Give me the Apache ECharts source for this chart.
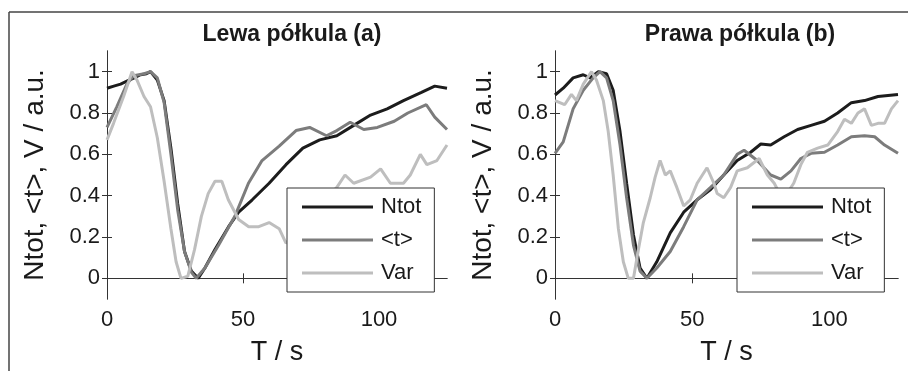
<!DOCTYPE html>
<html>
<head>
<meta charset="utf-8">
<script src="https://cdn.jsdelivr.net/npm/echarts@6/dist/echarts.min.js"></script>
<style>
  html, body { margin: 0; padding: 0; background: #fff; }
  #chart { width: 908px; height: 371px; }
</style>
</head>
<body>
<div id="chart"></div>
<script>
// [T (s), value (a.u.)]
const lewaNtot = [[0,0.92],[2.5,0.93],[5,0.94],[7.5,0.955],[10,0.97],[12.3,0.985],[14.5,0.99],[16,1.0],[18.5,0.96],[21,0.86],[23.5,0.63],[26,0.36],[28.5,0.13],[31,0.035],[33.5,0],[36,0.05],[39.7,0.14],[44.7,0.25],[48.4,0.32],[53.4,0.38],[59.6,0.46],[65.8,0.55],[72,0.63],[78.2,0.67],[84.5,0.69],[90.7,0.74],[96.9,0.79],[103,0.82],[109,0.86],[115.6,0.9],[120.5,0.93],[125,0.92]];
const lewaT = [[0,0.73],[3.6,0.83],[7.3,0.94],[9.8,0.98],[13.6,0.99],[16,1.0],[18.5,0.97],[21,0.85],[23.5,0.6],[26,0.33],[28.5,0.13],[31,0.03],[32.8,0],[36,0.05],[41,0.16],[47,0.3],[52,0.46],[57,0.57],[63.3,0.64],[69.5,0.715],[74.5,0.73],[80.7,0.69],[84.5,0.715],[89.4,0.755],[94.4,0.72],[99.4,0.73],[105.6,0.76],[110.6,0.8],[117.4,0.84],[120.5,0.78],[125,0.72]];
const lewaVar = [[0,0.67],[2.4,0.75],[6.1,0.88],[9.2,1.0],[11,0.96],[13.6,0.88],[16,0.83],[18.5,0.68],[21,0.47],[23.5,0.24],[25.4,0.08],[27.2,0],[29.7,0.01],[32.2,0.14],[34.7,0.3],[37.2,0.41],[39.7,0.47],[42.2,0.47],[44.6,0.38],[48.4,0.285],[52.1,0.25],[55.8,0.25],[59.6,0.27],[63.3,0.24],[65.8,0.17],[70,0.22],[75,0.3],[80,0.38],[84.5,0.44],[87.5,0.5],[90.7,0.46],[96.9,0.49],[100.6,0.53],[104.2,0.46],[109,0.46],[111.5,0.5],[115.2,0.6],[117.6,0.55],[121.3,0.57],[125,0.645]];

const prawaNtot = [[0,0.887],[3,0.92],[6.6,0.97],[10.3,0.985],[12.7,0.97],[15.8,1.0],[18.8,0.99],[21.2,0.91],[23.7,0.71],[26.1,0.46],[28.6,0.21],[31,0.05],[33.5,0],[37.1,0.08],[42,0.22],[46.9,0.32],[51.8,0.38],[56.7,0.43],[61.5,0.5],[66.4,0.57],[71.3,0.61],[75,0.65],[78.6,0.645],[83.5,0.685],[88.4,0.72],[93.3,0.74],[98.2,0.76],[103,0.8],[108,0.85],[112.8,0.86],[117.7,0.88],[125,0.89]];
const prawaT = [[0,0.605],[3,0.66],[6.6,0.82],[10.3,0.91],[13.9,0.97],[16.4,1.0],[18.8,0.97],[21.2,0.86],[23.7,0.645],[26.1,0.39],[28.6,0.16],[31,0.035],[33.5,0],[37.1,0.05],[42,0.13],[46.9,0.25],[51.8,0.38],[56.7,0.44],[61.5,0.5],[66.4,0.6],[68.9,0.62],[73.7,0.57],[78.6,0.5],[82.3,0.48],[86,0.52],[89.6,0.58],[93.3,0.605],[98.2,0.61],[103,0.645],[108,0.685],[112.8,0.69],[116.5,0.685],[120.1,0.645],[125,0.605]];
const prawaVar = [[0,0.86],[3.5,0.84],[6,0.89],[7.8,0.86],[10.3,0.94],[13.3,1.0],[15.1,0.96],[17.6,0.86],[19.4,0.71],[21.2,0.5],[23.1,0.24],[24.9,0.08],[26.7,0],[28.6,0],[30.4,0.14],[32.2,0.27],[34.7,0.39],[36.5,0.49],[38.3,0.57],[40.2,0.5],[42,0.52],[44.4,0.44],[46.9,0.35],[49.3,0.38],[51.8,0.46],[55.4,0.535],[57.9,0.46],[59.1,0.41],[61.5,0.39],[64,0.44],[66.4,0.52],[70.1,0.535],[74.4,0.58],[77.4,0.5],[79.9,0.46],[83,0.38],[87,0.46],[89.6,0.55],[92,0.61],[95.7,0.63],[99.4,0.645],[103,0.71],[105.5,0.77],[108,0.75],[110.4,0.8],[112.8,0.82],[115.3,0.74],[117.7,0.75],[120.1,0.75],[122.6,0.82],[125,0.86]];

const titles = ['Lewa półkula (a)', 'Prawa półkula (b)'];
const names = ['Ntot', '<t>', 'Var'];
const colors = ['#1c1c1c', '#7c7c7c', '#bebebe'];
const xTicks = [0, 50, 100];
const yTicks = [0, 0.2, 0.4, 0.6, 0.8, 1];

const chart = echarts.init(document.getElementById('chart'), null, { renderer: 'canvas' });
const font = 'Liberation Sans, Arial, sans-serif';

const grids = [
  { left: 107, top: 51, width: 340, height: 254 },
  { left: 555, top: 51, width: 343, height: 254 }
];

const xAxes = [], yAxes = [], series = [], legends = [];
grids.forEach((g, i) => {
  const tick = { show: true, inside: true, length: 5, lineStyle: { color: '#333' }, customValues: xTicks };
  xAxes.push({
    type: 'value', gridIndex: i, min: 0, max: 125, position: 'bottom',
    name: 'T / s', nameLocation: 'middle', nameGap: 40,
    nameTextStyle: { fontFamily: font, fontSize: 27, color: '#1a1a1a' },
    axisLine: { show: true, lineStyle: { color: '#333', width: 1 } },
    axisTick: tick,
    axisLabel: { customValues: xTicks, fontFamily: font, fontSize: 22, color: '#1a1a1a', margin: 10 },
    splitLine: { show: false }
  });
  xAxes.push({
    type: 'value', gridIndex: i, min: 0, max: 125, position: 'top',
    axisLine: { show: true, lineStyle: { color: '#333', width: 1 } },
    axisTick: tick, axisLabel: { show: false }, splitLine: { show: false }
  });
  const ytick = { show: true, inside: true, length: 5, lineStyle: { color: '#333' }, customValues: yTicks };
  yAxes.push({
    type: 'value', gridIndex: i, min: -0.1, max: 1.1, position: 'left',
    name: 'Ntot, <t>, V / a.u.', nameLocation: 'middle', nameGap: 58,
    nameTextStyle: { fontFamily: font, fontSize: 28, color: '#1a1a1a' },
    axisLine: { show: true, lineStyle: { color: '#333', width: 1 } },
    axisTick: ytick,
    axisLabel: { customValues: yTicks, fontFamily: font, fontSize: 22, color: '#1a1a1a', margin: 7 },
    splitLine: { show: false }
  });
  yAxes.push({
    type: 'value', gridIndex: i, min: -0.1, max: 1.1, position: 'right',
    axisLine: { show: true, lineStyle: { color: '#333', width: 1 } },
    axisTick: ytick, axisLabel: { show: false }, splitLine: { show: false }
  });
  legends.push({
    left: i === 0 ? 287 : 737, top: 188, z: 20,
    orient: 'vertical',
    backgroundColor: '#fff', borderColor: '#333', borderWidth: 1,
    padding: [8, 13, 8, 15],
    itemGap: 11, itemWidth: 71, itemHeight: 3, icon: 'rect',
    textStyle: { fontFamily: font, fontSize: 22, color: '#1a1a1a', padding: [0, 0, 0, 3] },
    data: names, selectedMode: false
  });
});

const panelData = [[lewaNtot, lewaT, lewaVar], [prawaNtot, prawaT, prawaVar]];
panelData.forEach((set, i) => {
  set.forEach((d, k) => {
    series.push({
      name: names[k], type: 'line', data: d,
      xAxisIndex: i * 2, yAxisIndex: i * 2,
      showSymbol: false, symbol: 'none', smooth: false,
      lineStyle: { color: colors[k], width: 3 },
      itemStyle: { color: colors[k] },
      animation: false, z: 2 + k
    });
  });
});

chart.setOption({
  backgroundColor: '#fff',
  animation: false,
  title: [
    { text: titles[0], left: 287, top: 18, textAlign: 'center',
      textStyle: { fontFamily: font, fontSize: 23, fontWeight: 'bold', color: '#1a1a1a' } },
    { text: titles[1], left: 735, top: 18, textAlign: 'center',
      textStyle: { fontFamily: font, fontSize: 23, fontWeight: 'bold', color: '#1a1a1a' } }
  ],
  grid: grids,
  xAxis: xAxes,
  yAxis: yAxes,
  legend: legends,
  graphic: [
    { type: 'line', shape: { x1: 9, y1: 12, x2: 908, y2: 12 }, style: { stroke: '#444', lineWidth: 1.5 } },
    { type: 'line', shape: { x1: 9, y1: 12, x2: 9, y2: 371 }, style: { stroke: '#444', lineWidth: 1.5 } }
  ],
  series: series
});
</script>
</body>
</html>
